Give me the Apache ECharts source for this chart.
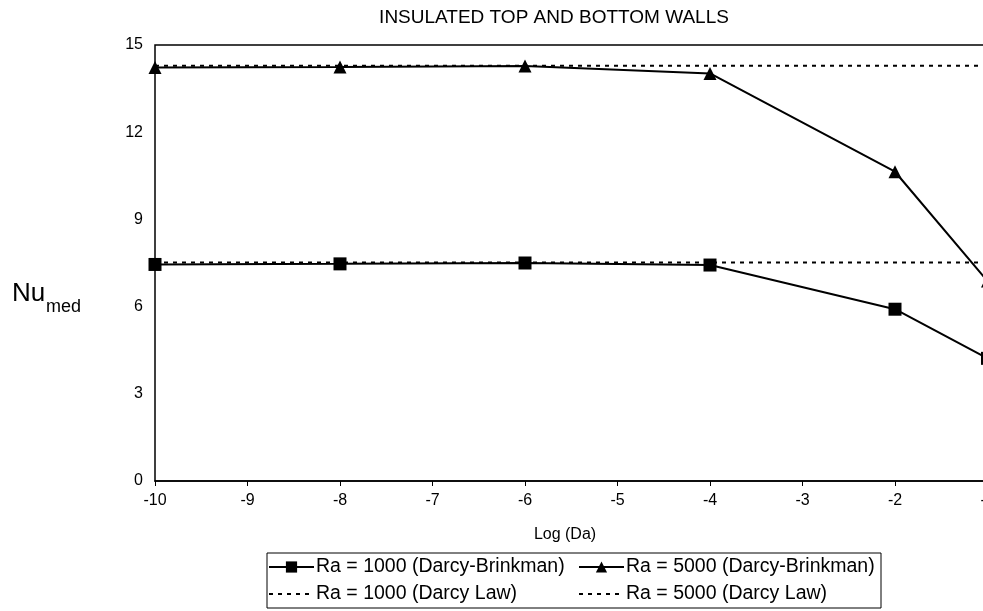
<!DOCTYPE html>
<html>
<head>
<meta charset="utf-8">
<script src="https://cdn.jsdelivr.net/npm/echarts@6/dist/echarts.min.js"></script>
<style>
html,body{margin:0;padding:0;overflow:hidden;background:#fff;width:983px;height:611px;}
#c{width:1100px;height:611px;}
</style>
</head>
<body>
<div id="c"></div>
<script>
// Data
const logDa = [-10, -8, -6, -4, -2, -1];
const ra1000DB = [7.45, 7.47, 7.50, 7.43, 5.91, 4.22];
const ra5000DB = [14.23, 14.24, 14.28, 14.02, 10.64, 6.88];
const ra1000Darcy = [7.52, 7.52, 7.52, 7.52, 7.52, 7.52];
const ra5000Darcy = [14.29, 14.29, 14.29, 14.29, 14.29, 14.29];
const xTicks = [-10, -9, -8, -7, -6, -5, -4, -3, -2, -1, 0];
const yTicks = [0, 3, 6, 9, 12, 15];
const names = ['Ra = 1000 (Darcy-Brinkman)', 'Ra = 5000 (Darcy-Brinkman)', 'Ra = 1000 (Darcy Law)', 'Ra = 5000 (Darcy Law)'];

const pairs = (xs, ys) => xs.map((x, i) => [x, ys[i]]);
const FONT = '"Liberation Sans", Arial, sans-serif';

const chart = echarts.init(document.getElementById('c'), null, {renderer: 'canvas'});
const dotted = {color: '#000', width: 2, type: [4, 5]};
const legendText = {fontFamily: FONT, fontSize: 19.5, color: '#000', lineHeight: 20, padding: [0, 0, 0, -3]};
chart.setOption({
  animation: false,
  backgroundColor: '#fff',
  textStyle: {fontFamily: FONT, color: '#000'},
  grid: {left: 155, top: 45, width: 925, height: 436, show: true, borderColor: '#000', borderWidth: 1.5, containLabel: false},
  xAxis: {
    type: 'value', min: xTicks[0], max: xTicks[xTicks.length - 1], interval: 1,
    axisLine: {show: true, onZero: false, lineStyle: {color: '#000', width: 1.5}},
    axisTick: {show: true, length: 5, lineStyle: {color: '#000'}},
    axisLabel: {color: '#000', fontFamily: FONT, fontSize: 16, margin: 12},
    splitLine: {show: false}
  },
  yAxis: {
    type: 'value', min: yTicks[0], max: yTicks[yTicks.length - 1], interval: 3,
    axisLine: {show: true, lineStyle: {color: '#000', width: 1.5}},
    axisTick: {show: true, length: 5, lineStyle: {color: '#000'}},
    axisLabel: {color: '#000', fontFamily: FONT, fontSize: 16, margin: 12},
    splitLine: {show: false}
  },
  legend: [
    {left: 268, top: 557, orient: 'vertical', itemGap: 7, itemWidth: 45, itemHeight: 14, padding: 0,
     data: [names[0], {name: names[2], itemStyle: {opacity: 0}}], textStyle: legendText},
    {left: 578, top: 557, orient: 'vertical', itemGap: 7, itemWidth: 45, itemHeight: 14, padding: 0,
     data: [names[1], {name: names[3], itemStyle: {opacity: 0}}], textStyle: legendText}
  ],
  graphic: [
    {type: 'text', x: 554, y: 18, style: {text: 'INSULATED TOP AND BOTTOM WALLS', font: '19px ' + FONT, fill: '#000', textAlign: 'center', textVerticalAlign: 'middle'}},
    {type: 'text', x: 565, y: 535, style: {text: 'Log (Da)', font: '16px ' + FONT, fill: '#000', textAlign: 'center', textVerticalAlign: 'middle'}},
    {type: 'text', x: 12, y: 294, style: {text: 'Nu', font: '26px ' + FONT, fill: '#000', textAlign: 'left', textVerticalAlign: 'middle'}},
    {type: 'text', x: 46, y: 307, style: {text: 'med', font: '18px ' + FONT, fill: '#000', textAlign: 'left', textVerticalAlign: 'middle'}},
    {type: 'rect', shape: {x: 267, y: 553, width: 614, height: 55}, style: {fill: 'none', stroke: '#000', lineWidth: 1}}
  ],
  series: [
    {name: names[2], type: 'line', data: pairs(logDa, ra1000Darcy), symbol: 'none', lineStyle: dotted, itemStyle: {color: '#000'}, z: 1},
    {name: names[3], type: 'line', data: pairs(logDa, ra5000Darcy), symbol: 'none', lineStyle: dotted, itemStyle: {color: '#000'}, z: 1},
    {name: names[0], type: 'line', data: pairs(logDa, ra1000DB), symbol: 'rect', symbolSize: 13, lineStyle: {color: '#000', width: 2}, itemStyle: {color: '#000'}, z: 2},
    {name: names[1], type: 'line', data: pairs(logDa, ra5000DB), symbol: 'triangle', symbolSize: 13, lineStyle: {color: '#000', width: 2}, itemStyle: {color: '#000'}, z: 2}
  ]
});
</script>
</body>
</html>
